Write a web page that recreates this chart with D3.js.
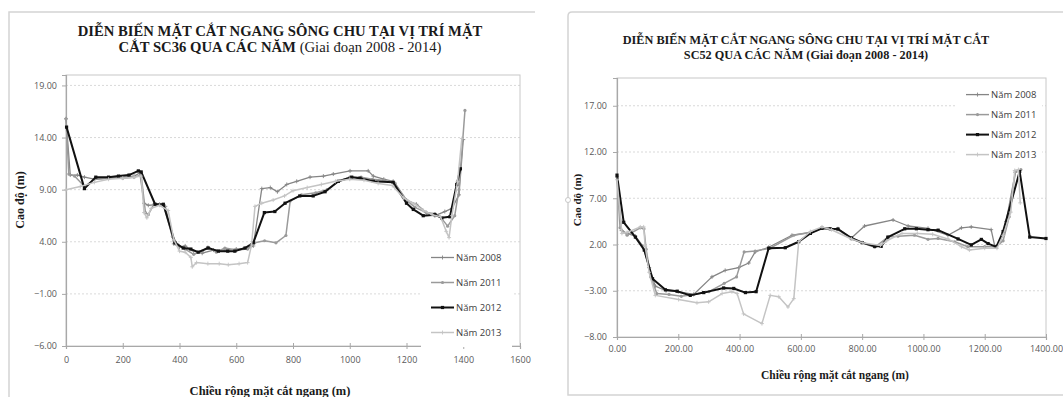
<!DOCTYPE html>
<html>
<head>
<meta charset="utf-8">
<script src="https://cdn.jsdelivr.net/npm/d3@7"></script>
<style>
  body { margin: 0; background: #fff; }
  svg { display: block; }
  .tick-label { font-family: "Open Sans", "Noto Sans", sans-serif; font-size: 9px; fill: #595959; }
  .legend-label { font-family: "Open Sans", "Noto Sans", sans-serif; font-size: 9.5px; fill: #404040; }
  .title { font-family: "Liberation Serif", "DejaVu Serif", serif; fill: #1a1a1a; }
  .axis-title { font-family: "Liberation Serif", "DejaVu Serif", serif; font-weight: bold; fill: #1a1a1a; }
</style>
</head>
<body>
<svg id="chart" width="1063" height="397"></svg>
<script>
// ---- data: SC36 ----
const years = ["Năm 2008", "Năm 2011", "Năm 2012", "Năm 2013"];

const sc36XTicks = [0, 200, 400, 600, 800, 1000, 1200, 1400, 1600];
const sc36YTicks = [-6, -1, 4, 9, 14, 19];

const sc36_2008 = [[0,15.8],[15,10.4],[40,10.4],[65,10.2],[100,10.0],[150,10.1],[200,10.2],[240,10.3],[260,10.6],[275,7.7],[290,7.5],[330,7.6],[350,7.4],[380,3.8],[400,3.5],[420,3.6],[450,3.1],[480,2.9],[520,3.2],[560,3.2],[600,3.3],[640,3.4],[660,3.6],[690,9.1],[720,9.2],[745,8.8],[778,9.5],[813,9.8],[860,10.2],[907,10.3],[942,10.5],[1001,10.8],[1065,10.8],[1083,10.3],[1120,10.0],[1153,9.8],[1200,8.0],[1235,7.6],[1270,6.8],[1300,6.5],[1335,6.9],[1360,7.2],[1385,8.5],[1400,13.8]];
const sc36_2011 = [[0,15.8],[10,10.5],[30,10.3],[65,9.3],[100,10.0],[150,10.1],[200,10.1],[240,10.2],[265,10.4],[280,6.8],[290,6.6],[310,7.6],[345,7.4],[375,4.5],[395,3.7],[420,3.3],[450,2.8],[480,3.1],[500,3.5],[530,3.0],[560,3.4],[600,3.2],[640,3.3],[665,3.9],[700,4.1],[740,3.9],[775,4.6],[790,7.9],[830,8.5],[880,8.7],[920,9.0],[960,9.8],[1000,10.2],[1040,10.2],[1080,10.0],[1120,9.9],[1160,9.6],[1200,8.0],[1230,7.3],[1270,6.8],[1300,6.7],[1325,6.2],[1345,5.5],[1370,6.5],[1385,9.0],[1406,16.6]];
const sc36_2012 = [[2,15.0],[65,9.1],[105,10.2],[150,10.2],[185,10.3],[222,10.4],[255,10.8],[265,10.7],[314,7.6],[343,7.6],[384,3.9],[413,3.4],[440,3.3],[466,3.0],[501,3.4],[537,3.1],[570,3.1],[595,3.1],[631,3.4],[660,3.9],[699,6.8],[736,6.9],[772,7.7],[824,8.4],[871,8.4],[913,8.8],[960,9.8],[1007,10.2],[1036,10.1],[1083,9.8],[1153,9.7],[1200,7.7],[1224,7.1],[1259,6.5],[1300,6.6],[1324,6.3],[1353,6.4],[1377,9.5],[1390,11.0]];
const sc36_2013 = [[0,9.0],[50,9.3],[100,9.7],[150,10.0],[200,10.1],[240,10.2],[265,10.3],[275,6.8],[285,6.3],[300,7.2],[330,7.5],[360,7.0],[380,4.2],[400,3.1],[420,3.0],[440,2.5],[445,1.6],[460,2.0],[500,1.9],[540,1.9],[572,1.8],[610,1.9],[640,2.0],[654,3.7],[666,7.4],[690,7.7],[730,8.0],[770,8.4],[800,8.9],[850,9.2],[900,9.5],[950,9.8],[1000,10.0],[1050,9.9],[1100,9.6],[1150,9.4],[1190,8.2],[1230,7.6],[1260,7.0],[1290,6.6],[1320,6.4],[1340,5.0],[1350,4.4],[1360,6.5],[1380,9.8],[1395,13.9]];

// ---- data: SC52 ----
const sc52XTicks = [0, 200, 400, 600, 800, 1000, 1200, 1400];
const sc52YTicks = [-8, -3, 2, 7, 12, 17];

const sc52_2008 = [[0,9.3],[15,3.5],[33,3.2],[60,2.9],[85,1.8],[105,-0.5],[125,-2.5],[160,-3.0],[200,-3.1],[250,-3.4],[310,-1.5],[353,-0.8],[397,-0.5],[430,0.0],[451,1.2],[495,1.7],[571,3.0],[631,3.3],[669,3.8],[721,3.7],[765,2.7],[808,4.0],[901,4.65],[950,4.0],[1015,3.75],[1080,3.0],[1124,3.8],[1156,3.9],[1221,3.6],[1233,1.8],[1250,2.2],[1270,4.5],[1300,9.8]];
const sc52_2011 = [[0,9.3],[10,3.8],[33,3.0],[76,3.8],[88,3.7],[95,1.5],[110,-1.5],[130,-3.3],[170,-3.4],[210,-3.6],[250,-3.4],[300,-3.1],[350,-2.2],[390,-1.5],[415,1.2],[451,1.3],[500,1.6],[577,3.0],[631,3.3],[669,3.8],[721,3.6],[765,2.6],[841,1.7],[884,2.8],[917,2.9],[971,3.0],[1015,2.56],[1048,2.66],[1102,2.3],[1145,1.76],[1200,1.76],[1233,1.76],[1260,2.4],[1280,5.0],[1300,9.9],[1318,10.1]];
const sc52_2012 = [[0,9.5],[22,4.4],[60,2.8],[89,1.4],[116,-1.7],[158,-2.9],[196,-3.05],[239,-3.5],[283,-3.2],[348,-2.7],[381,-2.75],[419,-3.2],[454,-3.1],[495,1.6],[549,1.65],[593,2.3],[631,3.2],[669,3.75],[696,3.7],[721,3.68],[765,2.7],[800,2.2],[841,1.8],[862,1.8],[884,2.8],[939,3.7],[977,3.7],[1015,3.6],[1048,3.55],[1113,2.6],[1156,1.95],[1189,2.55],[1211,2.1],[1238,1.75],[1260,3.4],[1314,9.9],[1347,2.8],[1400,2.65]];
const sc52_2013 = [[0,9.0],[16,3.2],[33,3.3],[76,3.9],[87,3.9],[92,1.8],[105,-1.0],[125,-3.5],[201,-3.95],[261,-4.3],[299,-4.2],[343,-3.3],[375,-3.1],[392,-3.3],[413,-5.5],[473,-6.55],[500,-3.5],[528,-3.65],[558,-4.75],[577,-3.85],[593,2.3],[631,3.4],[669,3.9],[700,3.6],[765,2.6],[800,2.2],[860,1.9],[880,2.4],[930,3.2],[980,3.2],[1030,3.1],[1080,2.6],[1124,1.76],[1150,1.4],[1200,1.6],[1240,1.6],[1260,3.0],[1285,5.5],[1298,10.0],[1310,10.1],[1316,6.5]];

// line look per series (2008, 2011, 2012, 2013)
const seriesStyle = [
    { color: "#858585", width: 1.3, marker: "plus" },
    { color: "#9a9a9a", width: 1.5, marker: "circle" },
    { color: "#111111", width: 2, marker: "square" },
    { color: "#c4c4c4", width: 1.5, marker: "plus" }
];

const svg = d3.select("#chart");

function fitText(sel, target) {
    const w = sel.node().getComputedTextLength();
    const fs = parseFloat(sel.attr("font-size"));
    sel.attr("font-size", (fs * target / w).toFixed(2));
}

function drawChart(cfg) {
    const g = svg.append("g");

    // chart frame
    g.append("path")
        .attr("d", cfg.framePath)
        .attr("fill", "none")
        .attr("stroke", "#d4d4d4")
        .attr("stroke-width", 1.5);

    const x = d3.scaleLinear().domain(cfg.xDomain).range([cfg.plot.left, cfg.plot.right]);
    const y = d3.scaleLinear().domain(cfg.yDomain).range([cfg.plot.bottom, cfg.plot.top]);

    // grid
    g.append("g").selectAll("line")
        .data(cfg.yTicks.filter(d => d !== cfg.yDomain[0]))
        .enter().append("line")
        .attr("x1", cfg.plot.left).attr("x2", cfg.plot.right)
        .attr("y1", d => y(d)).attr("y2", d => y(d))
        .attr("stroke", "#cfcfcf")
        .attr("stroke-dasharray", "2,2")
        .attr("stroke-width", 0.8);

    // plot border
    g.append("rect")
        .attr("x", cfg.plot.left).attr("y", cfg.plot.top)
        .attr("width", cfg.plot.right - cfg.plot.left)
        .attr("height", cfg.plot.bottom - cfg.plot.top)
        .attr("fill", "none")
        .attr("stroke", "#c8c8c8")
        .attr("stroke-width", 1);

    // axes
    const xAxis = d3.axisBottom(x).tickValues(cfg.xTicks).tickSize(3).tickFormat(cfg.xFormat);
    const yAxis = d3.axisLeft(y).tickValues(cfg.yTicks).tickSize(4).tickFormat(d3.format(".2f"));

    const gx = g.append("g")
        .attr("transform", "translate(0," + cfg.plot.bottom + ")")
        .call(xAxis);
    gx.select(".domain").attr("stroke", "#a8a8a8").attr("stroke-width", 1.2);
    gx.selectAll(".tick line").attr("stroke", "#a8a8a8").attr("y1", -3);
    gx.selectAll(".tick text").attr("class", "tick-label").attr("dy", cfg.xLabelDy);

    const gy = g.append("g")
        .attr("transform", "translate(" + cfg.plot.left + ",0)")
        .call(yAxis);
    gy.select(".domain").attr("stroke", "#a8a8a8").attr("stroke-width", 1.2);
    gy.selectAll(".tick line").attr("stroke", "#a8a8a8");
    gy.selectAll(".tick text").attr("class", "tick-label").attr("x", -cfg.yLabelGap);

    // series
    const line = d3.line().x(d => x(d[0])).y(d => y(d[1]));
    const lines = g.append("g");
    cfg.series.forEach((data, i) => {
        const st = seriesStyle[i];
        const s = lines.append("g");
        s.append("path")
            .datum(data)
            .attr("d", line)
            .attr("fill", "none")
            .attr("stroke", st.color)
            .attr("stroke-width", st.width)
            .attr("stroke-linejoin", "round");
        drawMarkers(s, data.map(d => [x(d[0]), y(d[1])]), st);
    });

    // legend
    const lg = g.append("g");
    lg.append("rect")
        .attr("x", cfg.legend.x - 10).attr("y", cfg.legend.y - cfg.legend.step / 2 - 2)
        .attr("width", cfg.legend.w)
        .attr("height", cfg.legend.step * years.length + 4)
        .attr("fill", "#fff");
    years.forEach((name, i) => {
        const st = seriesStyle[i];
        const ly = cfg.legend.y + i * cfg.legend.step;
        const item = lg.append("g");
        item.append("line")
            .attr("x1", cfg.legend.x).attr("x2", cfg.legend.x + 23)
            .attr("y1", ly).attr("y2", ly)
            .attr("stroke", st.color)
            .attr("stroke-width", st.width);
        drawMarkers(item, [[cfg.legend.x + 11.5, ly]], st);
        item.append("text")
            .attr("class", "legend-label")
            .attr("x", cfg.legend.x + 25).attr("y", ly)
            .attr("dy", "0.35em")
            .text(name);
    });

    // title
    const t1 = g.append("text")
        .attr("class", "title")
        .attr("x", cfg.title.cx).attr("y", cfg.title.y1)
        .attr("text-anchor", "middle")
        .attr("font-size", 12)
        .attr("font-weight", "bold")
        .text(cfg.title.line1);
    fitText(t1, cfg.title.width);
    const fs = t1.attr("font-size");
    const t2 = g.append("text")
        .attr("class", "title")
        .attr("x", cfg.title.cx).attr("y", cfg.title.y2)
        .attr("text-anchor", "middle")
        .attr("font-size", fs);
    t2.append("tspan").attr("font-weight", "bold").text(cfg.title.line2a);
    t2.append("tspan").attr("font-weight", cfg.title.line2bBold ? "bold" : "normal").text(cfg.title.line2b);

    // axis titles
    g.append("text")
        .attr("class", "axis-title")
        .attr("x", cfg.xTitle.cx).attr("y", cfg.xTitle.y)
        .attr("text-anchor", "middle")
        .attr("font-size", cfg.xTitle.size)
        .text("Chiều rộng mặt cắt ngang (m)");
    g.append("text")
        .attr("class", "axis-title")
        .attr("transform", "translate(" + cfg.yTitle.x + "," + cfg.yTitle.cy + ") rotate(-90)")
        .attr("text-anchor", "middle")
        .attr("font-size", cfg.yTitle.size)
        .text("Cao độ (m)");
}

function drawMarkers(sel, pts, st) {
    if (st.marker === "circle") {
        sel.selectAll("circle.m").data(pts).enter().append("circle")
            .attr("class", "m")
            .attr("cx", d => d[0]).attr("cy", d => d[1]).attr("r", 1.6)
            .attr("fill", st.color);
    } else if (st.marker === "square") {
        sel.selectAll("rect.m").data(pts).enter().append("rect")
            .attr("class", "m")
            .attr("x", d => d[0] - 1.6).attr("y", d => d[1] - 1.6)
            .attr("width", 3.2).attr("height", 3.2)
            .attr("fill", st.color);
    } else {
        sel.selectAll("path.m").data(pts).enter().append("path")
            .attr("class", "m")
            .attr("d", d => "M" + (d[0] - 2) + "," + d[1] + "h4M" + d[0] + "," + (d[1] - 2) + "v4")
            .attr("stroke", st.color)
            .attr("stroke-width", 0.9);
    }
}

drawChart({
    framePath: "M9,397V12H535",
    plot: { left: 66, right: 520, top: 75, bottom: 346 },
    xDomain: [0, 1600], yDomain: [-6, 20],
    xTicks: sc36XTicks, yTicks: sc36YTicks,
    xFormat: d3.format("d"),
    xLabelDy: "1.25em", yLabelGap: 9,
    series: [sc36_2008, sc36_2011, sc36_2012, sc36_2013],
    legend: { x: 431, y: 257.5, step: 25, w: 91 },
    title: {
        cx: 280, y1: 35.5, y2: 51.5, width: 405,
        line1: "DIỄN BIẾN MẶT CẮT NGANG SÔNG CHU TẠI VỊ TRÍ MẶT",
        line2a: "CẮT SC36 QUA CÁC NĂM ", line2b: "(Giai đoạn 2008 - 2014)", line2bBold: false
    },
    xTitle: { cx: 270, y: 395, size: 12.5 },
    yTitle: { x: 24, cy: 200, size: 12 }
});

drawChart({
    framePath: "M1063,12H572Q568,12 568,16V395H1063",
    plot: { left: 617, right: 1046, top: 78, bottom: 337 },
    xDomain: [0, 1400], yDomain: [-8, 20],
    xTicks: sc52XTicks, yTicks: sc52YTicks,
    xFormat: d3.format(".2f"),
    xLabelDy: "0.95em", yLabelGap: 10,
    series: [sc52_2008, sc52_2011, sc52_2012, sc52_2013],
    legend: { x: 966, y: 94.6, step: 20, w: 86 },
    title: {
        cx: 806, y1: 44, y2: 58.5, width: 367,
        line1: "DIỄN BIẾN MẶT CẮT NGANG SÔNG CHU TẠI VỊ TRÍ MẶT CẮT",
        line2a: "SC52 QUA CÁC NĂM ", line2b: "(Giai đoạn 2008 - 2014)", line2bBold: true
    },
    xTitle: { cx: 835, y: 379, size: 11.5 },
    yTitle: { x: 581, cy: 200, size: 11 }
});

// selection handle on the right chart frame
svg.append("circle")
    .attr("cx", 568).attr("cy", 200).attr("r", 2.5)
    .attr("fill", "#fff").attr("stroke", "#c8c8c8");
</script>
</body>
</html>
